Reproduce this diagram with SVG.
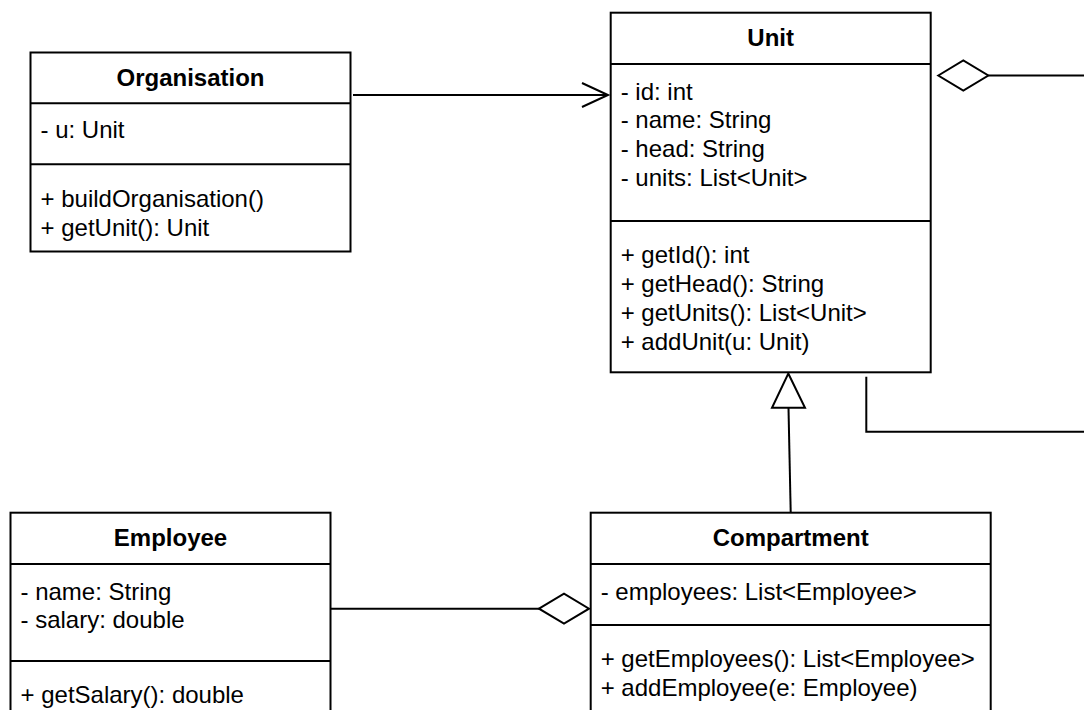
<svg xmlns="http://www.w3.org/2000/svg" width="1084" height="710" viewBox="0 0 1084 710">
<style>
.box{fill:#fff;stroke:#000;stroke-width:2}
.sep{stroke:#000;stroke-width:2;fill:none}
.t{font-family:"Liberation Sans",Arial,sans-serif;font-size:24px;fill:#000}
.h{font-family:"Liberation Sans",Arial,sans-serif;font-size:24px;font-weight:bold;fill:#000;text-anchor:middle}
.ln{stroke:#000;stroke-width:2;fill:none}
.hollow{stroke:#000;stroke-width:2;fill:#fff;stroke-linejoin:miter}
</style>
<rect width="1084" height="710" fill="#fff"/>
<g id="connectors">
<line class="ln" x1="353" y1="95" x2="608" y2="95"/>
<polyline class="ln" points="582,83 608,95 582,107"/>
<line class="ln" x1="988.3" y1="75.5" x2="1084" y2="75.5"/>
<polygon class="hollow" points="938.3,75.5 963.3,60.5 988.3,75.5 963.3,90.5"/>
<polyline class="ln" points="866.3,376.7 866.3,431.7 1084,431.7"/>
<line class="ln" x1="788.5" y1="407.7" x2="790.7" y2="512.7"/>
<polygon class="hollow" points="788.3,373.5 805,407.7 772,407.7"/>
<line class="ln" x1="330.7" y1="608.7" x2="539" y2="608.7"/>
<polygon class="hollow" points="539,608.7 564,593.7 589,608.7 564,623.7"/>
</g>
<g id="Organisation">
<rect class="box" x="30.5" y="52.5" width="320" height="199"/>
<line class="sep" x1="30.5" y1="103.3" x2="350.5" y2="103.3"/>
<line class="sep" x1="30.5" y1="164.3" x2="350.5" y2="164.3"/>
<text class="h" x="190.5" y="86.4">Organisation</text>
<text class="t" x="40.5" y="138.3">- u: Unit</text>
<text class="t" x="40.5" y="207">+ buildOrganisation()</text>
<text class="t" x="40.5" y="235.8">+ getUnit(): Unit</text>
</g>
<g id="Unit">
<rect class="box" x="610.7" y="12.7" width="320" height="359.6"/>
<line class="sep" x1="610.7" y1="64" x2="930.7" y2="64"/>
<line class="sep" x1="610.7" y1="221" x2="930.7" y2="221"/>
<text class="h" x="770.7" y="46.4">Unit</text>
<text class="t" x="620.7" y="99.5">- id: int</text>
<text class="t" x="620.7" y="128.3">- name: String</text>
<text class="t" x="620.7" y="157.1">- head: String</text>
<text class="t" x="620.7" y="185.9">- units: List&lt;Unit&gt;</text>
<text class="t" x="620.7" y="263.3">+ getId(): int</text>
<text class="t" x="620.7" y="292.1">+ getHead(): String</text>
<text class="t" x="620.7" y="320.9">+ getUnits(): List&lt;Unit&gt;</text>
<text class="t" x="620.7" y="349.7">+ addUnit(u: Unit)</text>
</g>
<g id="Employee">
<rect class="box" x="10.5" y="512.7" width="320" height="230"/>
<line class="sep" x1="10.5" y1="564" x2="330.5" y2="564"/>
<line class="sep" x1="10.5" y1="661" x2="330.5" y2="661"/>
<text class="h" x="170.5" y="546.4">Employee</text>
<text class="t" x="20.5" y="599.5">- name: String</text>
<text class="t" x="20.5" y="628.3">- salary: double</text>
<text class="t" x="20.5" y="703.3">+ getSalary(): double</text>
</g>
<g id="Compartment">
<rect class="box" x="590.7" y="512.7" width="400" height="230"/>
<line class="sep" x1="590.7" y1="564" x2="990.7" y2="564"/>
<line class="sep" x1="590.7" y1="625" x2="990.7" y2="625"/>
<text class="h" x="790.7" y="546.4">Compartment</text>
<text class="t" x="600.7" y="599.5">- employees: List&lt;Employee&gt;</text>
<text class="t" x="600.7" y="667">+ getEmployees(): List&lt;Employee&gt;</text>
<text class="t" x="600.7" y="695.8">+ addEmployee(e: Employee)</text>
</g>
</svg>
